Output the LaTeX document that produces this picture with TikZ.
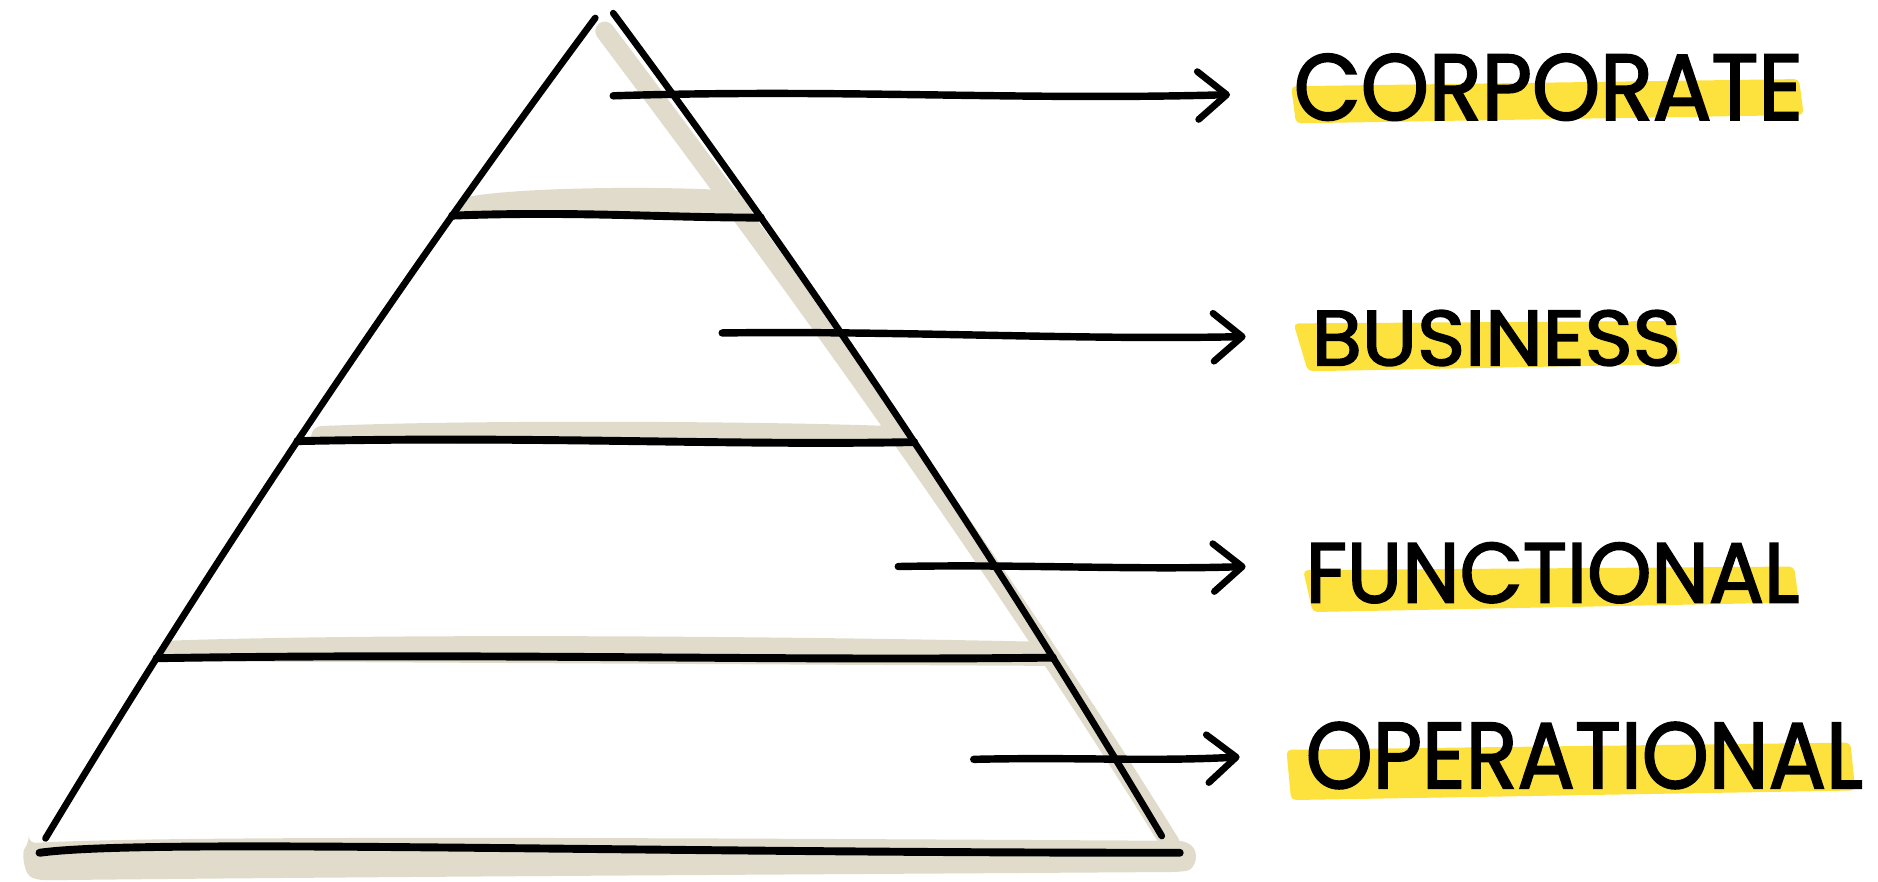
\documentclass[tikz,border=0pt]{standalone}
\usepackage{fontspec}
\setmainfont{Poppins}[FakeBold=2.2]
\usetikzlibrary{arrows.meta}
\definecolor{beige}{HTML}{E0DBCB}
\definecolor{hilite}{HTML}{FDE23E}
\tikzset{
  side/.style={line width=5.6pt, line cap=round, line join=round},
  tier/.style={line width=6.6pt, line cap=round, line join=round},
  shade/.style={fill=beige, rounded corners=6pt},
  hl/.style={fill=hilite, rounded corners=4pt},
  conn/.style={line width=6.2pt, line cap=round,
    -{Straight Barb[length=24pt,width=40pt,line width=5.6pt,round]}},
  lab/.style={anchor=base west, inner sep=0pt, text=black}
}
\begin{document}
\begin{tikzpicture}[x=1pt,y=-1pt]
\useasboundingbox (0,0) rectangle (1568,736);
% key points of the pyramid
\coordinate (apL) at (497,15);
\coordinate (apR) at (512,11);
\coordinate (L4) at (38,700);   \coordinate (R4) at (970,698);
\coordinate (B0) at (33,712);   \coordinate (B1) at (985,712);
% beige shading
\draw[beige, line width=16pt, line cap=round] (505,26) .. controls (666,240) and (829,466) .. (977,704);
\fill[shade] (383,166) .. controls (430,156) and (560,155) .. (622,160) -- (630,180) -- (382,182) -- cycle;
\fill[shade] (262,356) .. controls (400,350) and (650,352) .. (750,356) -- (758,372) -- (258,370) -- cycle;
\fill[shade] (138,535) .. controls (350,528) and (700,532) .. (876,536) -- (884,556) -- (132,552) -- cycle;
\fill[shade] (24,704) .. controls (150,697) and (600,700) .. (990,702)
  .. controls (1002,712) and (998,726) .. (985,728) .. controls (700,730) and (300,732) .. (32,735)
  .. controls (20,730) and (18,712) .. (24,704) -- cycle;
% yellow highlights
\fill[hl] (1078,72) -- (1502,66) -- (1506,96) -- (1082,103) -- cycle;
\fill[hl] (1080,270) -- (1398,268) -- (1403,304) -- (1092,310) -- cycle;
\fill[hl] (1088,476) -- (1498,473) -- (1502,503) -- (1096,511) -- cycle;
\fill[hl] (1074,626) -- (1545,620) -- (1549,660) -- (1078,668) -- cycle;
% pyramid outline
\draw[side] (apL) .. controls (333,236) and (180,464) .. (L4)
  coordinate[pos=0.247] (L1) coordinate[pos=0.524] (L2) coordinate[pos=0.786] (L3);
\draw[side] (apR) .. controls (676,232) and (829,461) .. (R4)
  coordinate[pos=0.255] (R1) coordinate[pos=0.53] (R2) coordinate[pos=0.789] (R3);
% tier lines
\draw[tier] (L1) .. controls (480,176) and (560,182) .. (R1);
\draw[tier] (L2) .. controls (450,364) and (600,372) .. (R2);
\draw[tier] (L3) .. controls (400,545) and (650,552) .. (R3);
\draw[tier] (B0) .. controls (120,700) and (500,712) .. (B1);
% labels
\node[lab] (l1) at (1080,100) {\resizebox{425pt}{55pt}{CORPORATE}};
\node[lab] (l2) at (1095,305) {\resizebox{308pt}{46pt}{BUSINESS}};
\node[lab] (l3) at (1090,503) {\resizebox{412pt}{50pt}{FUNCTIONAL}};
\node[lab] (l4) at (1090,658) {\resizebox{465pt}{55pt}{OPERATIONAL}};
% arrows
\coordinate (s1) at (512,80);  \coordinate (t1) at (1027,79);
\coordinate (s2) at (603,278); \coordinate (t2) at (1040,281);
\coordinate (s3) at (750,473); \coordinate (t3) at (1040,473);
\coordinate (s4) at (813,634); \coordinate (t4) at (1035,632);
\draw[conn] (s1) .. controls (700,74) and (850,84) .. (t1);
\draw[conn] (s2) .. controls (750,276) and (900,284) .. (t2);
\draw[conn] (s3) .. controls (850,471) and (950,476) .. (t3);
\draw[conn] (s4) .. controls (900,632) and (960,636) .. (t4);
\end{tikzpicture}
\end{document}
